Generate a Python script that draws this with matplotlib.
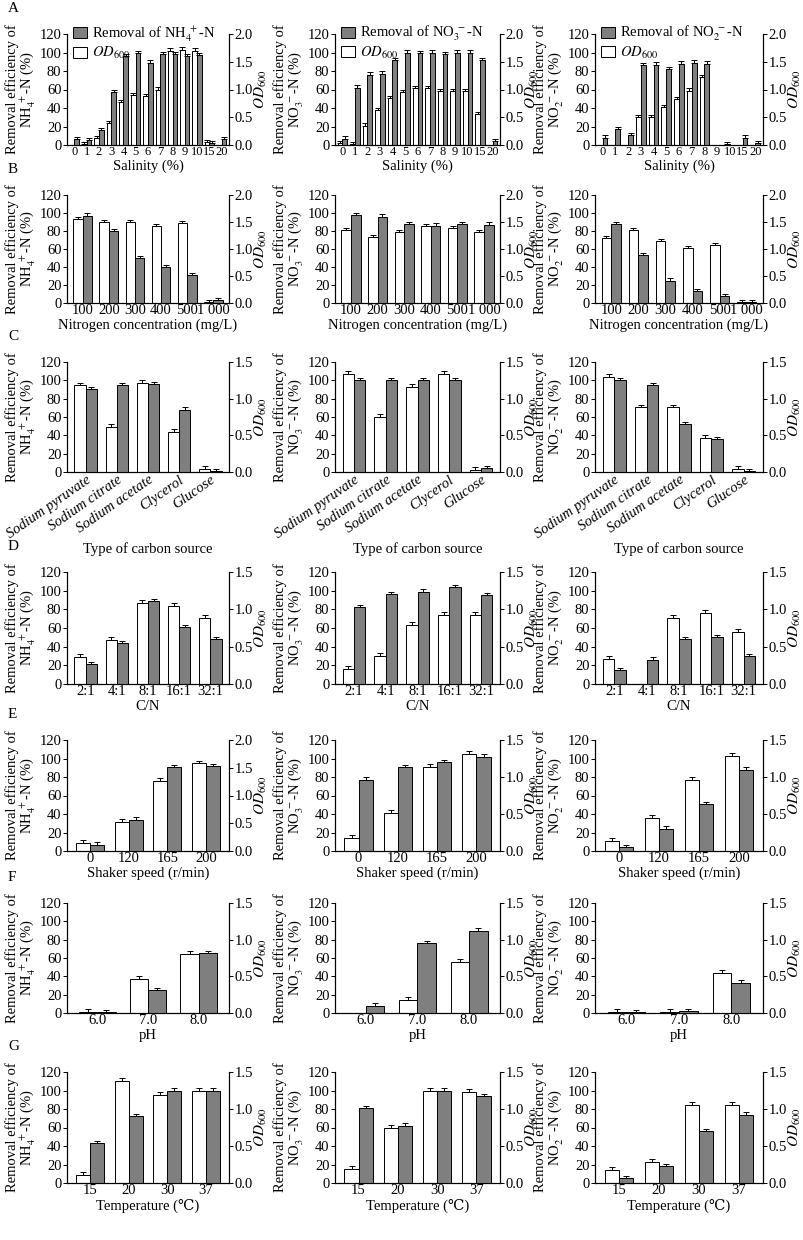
import numpy as np
import matplotlib.pyplot as plt

plt.rcParams['font.family'] = ['Liberation Serif', 'DejaVu Serif']
plt.rcParams['mathtext.fontset'] = 'stix'
plt.rcParams['font.size'] = 10.5

# categories per row
salinity = ['0', '1', '2', '3', '4', '5', '6', '7', '8', '9', '10', '15', '20']
nitrogen = ['100', '200', '300', '400', '500', '1 000']
carbon = ['Sodium pyruvate', 'Sodium citrate', 'Sodium acetate', 'Clycerol', 'Glucose']
cn_ratio = ['2:1', '4:1', '8:1', '16:1', '32:1']
shaker = ['0', '120', '165', '200']
ph = ['6.0', '7.0', '8.0']
temperature = ['15', '20', '30', '37']

# removal efficiency (%) -> grey bars ; OD600 -> white bars
# row A: salinity
rem_A = [[6, 5, 16, 57, 96, 99, 89, 98, 98, 96, 97, 2, 6],
         [7, 62, 76, 77, 92, 100, 99, 100, 98, 100, 100, 92, 4],
         [8, 17, 11, 86, 87, 82, 88, 89, 88, 0, 0, 8, 2]]
od_A = [[0.0, 0.02, 0.13, 0.40, 0.77, 0.90, 0.88, 1.0, 1.70, 1.72, 1.70, 0.05, 0.0],
        [0.03, 0.02, 0.35, 0.63, 0.85, 0.95, 1.02, 1.02, 0.97, 0.97, 0.97, 0.55, 0.0],
        [0, 0, 0, 0.5, 0.5, 0.68, 0.82, 0.98, 1.23, 0, 0.02, 0, 0]]
# row B: nitrogen concentration
rem_B = [[97, 80, 50, 40, 31, 3],
         [98, 96, 88, 86, 88, 87],
         [88, 53, 25, 13, 8, 1]]
od_B = [[1.55, 1.5, 1.5, 1.43, 1.48, 0.02],
        [1.35, 1.22, 1.32, 1.42, 1.38, 1.32],
        [1.2, 1.35, 1.15, 1.02, 1.07, 0.02]]
# row C: carbon source
rem_C = [[90, 95, 96, 68, 1],
         [100, 100, 100, 100, 4],
         [100, 95, 52, 36, 1]]
od_C = [[1.18, 0.61, 1.21, 0.55, 0.04],
        [1.34, 0.75, 1.16, 1.34, 0.03],
        [1.3, 0.88, 0.88, 0.46, 0.04]]
# row D: C/N
rem_D = [[21, 44, 89, 61, 48],
         [82, 96, 99, 104, 95],
         [15, 26, 48, 50, 30]]
od_D = [[0.36, 0.59, 1.08, 1.05, 0.88],
        [0.2, 0.38, 0.79, 0.93, 0.93],
        [0.34, 0, 0.89, 0.95, 0.7]]
# row E: shaker speed
rem_E = [[7, 34, 91, 92],
         [77, 91, 96, 102],
         [4, 24, 51, 88]]
od_E = [[0.15, 0.53, 1.27, 1.58],
        [0.18, 0.51, 1.14, 1.31],
        [0.14, 0.44, 0.96, 1.29]]
# row F: pH
rem_F = [[1, 25, 65],
         [8, 76, 90],
         [1, 2, 33]]
od_F = [[0.01, 0.46, 0.81],
        [0, 0.18, 0.69],
        [0.01, 0.01, 0.55]]
# row G: temperature
rem_G = [[43, 72, 100, 100],
         [81, 62, 100, 94],
         [5, 18, 56, 74]]
od_G = [[0.11, 1.38, 1.19, 1.25],
        [0.19, 0.74, 1.25, 1.23],
        [0.18, 0.28, 1.05, 1.06]]

ions = [r'NH$_4^{\ +}$-N', r'NO$_3^{\ -}$-N', r'NO$_2^{\ -}$-N']

rows = [
    ('A', salinity, rem_A, od_A, [2.0, 2.0, 2.0], 'Salinity (%)', 34, 145),
    ('B', nitrogen, rem_B, od_B, [2.0, 2.0, 2.0], 'Nitrogen concentration (mg/L)', 195, 303),
    ('C', carbon, rem_C, od_C, [1.5, 1.5, 1.5], 'Type of carbon source', 362, 472),
    ('D', cn_ratio, rem_D, od_D, [1.5, 1.5, 1.5], 'C/N', 572, 684),
    ('E', shaker, rem_E, od_E, [2.0, 1.5, 1.5], 'Shaker speed (r/min)', 740, 851),
    ('F', ph, rem_F, od_F, [1.5, 1.5, 1.5], 'pH', 903, 1013),
    ('G', temperature, rem_G, od_G, [1.5, 1.5, 1.5], 'Temperature (\u2103)', 1072, 1183),
]
cols = [(67, 229), (335, 500), (595, 763)]

W, H = 804, 1240
fig = plt.figure(figsize=(W / 100, H / 100), dpi=100)

for letter, cats, rem, od, odmax, xlab, top, bot in rows:
    fig.text(8 / W, 1 - (top - 22) / H, letter, fontsize=11)
    for c, (x0, x1) in enumerate(cols):
        ax = fig.add_axes([x0 / W, 1 - bot / H, (x1 - x0) / W, (bot - top) / H])
        ax2 = ax.twinx()
        n = len(cats)
        x = np.arange(n)
        bw = 0.38 if letter == 'A' else 0.36
        o = np.array(od[c])
        r = np.array(rem[c])
        ax2.bar(x - bw / 2, o, bw, color='white', edgecolor='black', linewidth=0.7,
                yerr=[np.zeros(n), np.where(o > 0, 0.04, 0)], capsize=2,
                error_kw=dict(elinewidth=0.7, capthick=0.7), label='$OD_{600}$')
        ax.bar(x + bw / 2, r, bw, color='#7f7f7f', edgecolor='black', linewidth=0.7,
               yerr=[np.zeros(n), np.where(r > 0, 2.5, 0)], capsize=2,
               error_kw=dict(elinewidth=0.7, capthick=0.7),
               label='Removal of ' + ions[c])
        ax.set_zorder(ax2.get_zorder() + 1)
        ax.patch.set_visible(False)
        ax.set_xlim(-0.6, n - 0.4)
        ax.set_ylim(0, 120)
        ax.set_yticks(range(0, 121, 20))
        ticks = np.arange(0, odmax[c] + 0.01, 0.5)
        ax2.set_ylim(0, odmax[c])
        ax2.set_yticks(ticks)
        ax2.set_yticklabels(['%.1f' % v for v in ticks])
        for a in (ax, ax2):
            a.spines['top'].set_visible(False)
            a.tick_params(length=3, width=0.7, pad=1)
        ax.set_xticks(x)
        if letter == 'C':
            ax.set_xticklabels(cats, rotation=35, ha='right', rotation_mode='anchor',
                               style='italic')
        elif letter == 'A':
            ax.set_xticklabels(cats, fontsize=9)
        else:
            ax.set_xticklabels(cats)
        ax.tick_params(axis='x', length=0)
        ax.set_xlabel(xlab, labelpad=1)
        ax.set_ylabel('Removal efficiency of\n' + ions[c] + ' (%)', labelpad=1,
                      linespacing=1.0, fontsize=10.5)
        ax2.set_ylabel('$OD_{600}$', labelpad=0, fontsize=11)
        if letter == 'A':
            h1, l1 = ax.get_legend_handles_labels()
            h2, l2 = ax2.get_legend_handles_labels()
            ax.legend([h1[0], h2[0]], [l1[0], l2[0]], loc='upper left',
                      bbox_to_anchor=(0.0, 1.14), frameon=False, handlelength=1.0,
                      handleheight=0.8, handletextpad=0.3, labelspacing=0.1,
                      borderaxespad=0, fontsize=10.5)

fig.savefig('out.png', dpi=100)
